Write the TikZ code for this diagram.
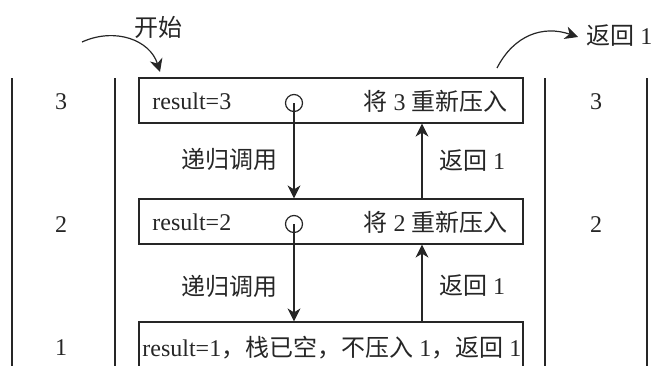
\documentclass[tikz,border=0pt]{standalone}
\usepackage{fontspec}
\setmainfont{Liberation Serif}
\newfontfamily\cjk{Noto Sans CJK SC}
\usetikzlibrary{arrows.meta}
\begin{document}
\begin{tikzpicture}[x=0.5pt,y=-0.5pt,
  every node/.style={inner sep=0pt, text=black!85},
  ln/.style={line width=0.6pt, draw=black!85},
  boxst/.style={draw=black!85, line width=0.6pt, minimum width=192pt, minimum height=22.5pt, inner sep=0pt},
  circ/.style={circle, draw=black!85, line width=0.6pt, minimum size=8.5pt, inner sep=0pt},
  arr/.style={line width=0.6pt, draw=black!85, -{Stealth[length=6.5pt,width=6.5pt,inset=2pt]}},
  lbl/.style={font=\fontsize{12}{14}\selectfont}
]
\useasboundingbox (0,0) rectangle (654,365);
\clip (0,0) rectangle (654,365);
% stack columns
\draw[ln] (12,78) -- (12,380);
\draw[ln] (115,78) -- (115,380);
\draw[ln] (545,78) -- (545,380);
\draw[ln] (647,78) -- (647,380);
% column numbers
\node[lbl] (l3) at (61,102) {3};
\node[lbl] (l2) at (61,225) {2};
\node[lbl] (l1) at (61,348) {1};
\node[lbl] (r3) at (596,102) {3};
\node[lbl] (r2) at (596,225) {2};
% boxes
\node[boxst] (b1) at (331,100.5) {};
\node[boxst] (b2) at (331,221.5) {};
\node[boxst, minimum height=34pt] (b3) at (331,356) {};
% box texts
\node[lbl, anchor=west] (t1a) at (152,101) {result=3};
\node[lbl, anchor=east] (t1b) at (508,101) {{\cjk 将} 3 {\cjk 重新压入}};
\node[lbl, anchor=west] (t2a) at (152,222) {result=2};
\node[lbl, anchor=east] (t2b) at (508,222) {{\cjk 将} 2 {\cjk 重新压入}};
\node[lbl, anchor=west] (t3) at (142,348) {result=1{\cjk ，栈已空，不压入} 1{\cjk ，返回} 1};
% circles
\node[circ] (c1) at (294,103) {};
\node[circ] (c2) at (294,224) {};
\coordinate (ux) at (422,0);
% arrows between boxes
\draw[arr] (c1.center) -- (c1.center |- b2.north);
\draw[arr] (c2.center) -- (c2.center |- b3.north);
\draw[arr] (b2.north -| ux) -- (b1.south -| ux);
\draw[arr] (b3.north -| ux) -- (b2.south -| ux);
% arrow labels
\node[lbl] (d1) at (229,159) {\cjk 递归调用};
\node[lbl] (d2) at (229,286) {\cjk 递归调用};
\node[lbl] (u1) at (472,161) {{\cjk 返回} 1};
\node[lbl] (u2) at (472,286) {{\cjk 返回} 1};
% start and return
\node[lbl] (start) at (158,27) {\cjk 开始};
\coordinate (s0) at (82,42);
\coordinate (s1) at (160,72);
\draw[arr] (s0) .. controls (115,27) and (150,40) .. (s1);
\node[lbl, anchor=west] (ret) at (586,36) {{\cjk 返回} 1};
\coordinate (r0) at (497,68);
\coordinate (r1) at (578,37);
\draw[arr] (r0) .. controls (514,35) and (543,25) .. (r1);
\end{tikzpicture}
\end{document}
